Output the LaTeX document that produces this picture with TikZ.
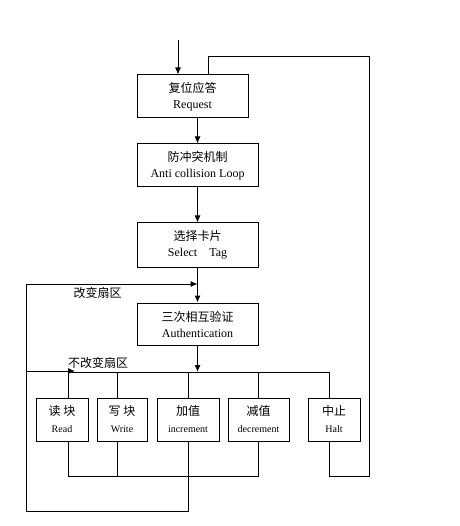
\documentclass[tikz,border=0pt]{standalone}
\usepackage{fontspec}
\setmainfont{Liberation Serif}
\newfontfamily\cjk{Noto Sans CJK SC}
\usetikzlibrary{arrows.meta}
\begin{document}
\begin{tikzpicture}[x=1pt,y=-1pt,line width=1pt,
  box/.style={draw,line width=1pt,inner sep=0pt,align=center,font=\fontsize{12}{16}\selectfont},
  sbox/.style={draw,line width=1pt,inner sep=0pt,align=center,minimum height=43pt,font=\fontsize{10}{17}\selectfont},
  lbl/.style={inner sep=0pt,font=\fontsize{12}{14}\selectfont\cjk},
  arr/.style={-{Latex[length=7pt,width=6pt]}}]
\useasboundingbox[fill=white] (0,0) rectangle (459,526);
% main boxes
\node[box,minimum width=111pt,minimum height=43pt] (req) at (192.5,96.5) {{\cjk 复位应答}\\Request};
\node[box,minimum width=121pt,minimum height=43pt] (anti) at (197.5,165.5) {{\cjk 防冲突机制}\\Anti collision Loop};
\node[box,minimum width=121pt,minimum height=44pt] (sel) at (197.5,245) {{\cjk 选择卡片}\\Select\hspace{12pt}Tag};
\node[box,minimum width=121pt,minimum height=42pt] (auth) at (197.5,324) {{\cjk 三次相互验证}\\Authentication};
% operation boxes
\node[sbox,minimum width=52pt] (read) at (62,419.5) {{\fontsize{12}{17}\selectfont\cjk 读 块}\\Read};
\node[sbox,minimum width=50pt] (write) at (122,419.5) {{\fontsize{12}{17}\selectfont\cjk 写 块}\\Write};
\node[sbox,minimum width=62pt] (incr) at (188,419.5) {{\fontsize{12}{17}\selectfont\cjk 加值}\\increment};
\node[sbox,minimum width=61pt] (decr) at (258.5,419.5) {{\fontsize{12}{17}\selectfont\cjk 减值}\\decrement};
\node[sbox,minimum width=52pt] (halt) at (334,419.5) {{\fontsize{12}{17}\selectfont\cjk 中止}\\Halt};
% labels
\node[lbl] (chg) at (97.5,293) {改变扇区};
\node[lbl] (nochg) at (98,363) {不改变扇区};
% coordinates
\coordinate (start) at (178,40);
\coordinate (busL) at (68,372);
\coordinate (busW) at (117,372);
\coordinate (busR) at (329,372);
\coordinate (botL) at (68,476);
\coordinate (botW) at (117,476);
\coordinate (botR) at (258,476);
\coordinate (haltB) at (329,476);
\coordinate (fbR) at (369,476);
\coordinate (fbTop) at (369,57);
\coordinate (fbReq) at (208,57);
\coordinate (lpB) at (188,511);
\coordinate (lpL) at (26,511);
\coordinate (lpTop) at (26,284);
\coordinate (lpMid) at (26,371);
\coordinate (lpArr) at (75,371);
% main flow
\draw[arr] (start) -- (start |- req.north);
\draw[arr] (req.south -| anti.north) -- (anti.north);
\draw[arr] (anti.south) -- (sel.north);
\draw[arr] (sel.south) -- (auth.north);
\draw[arr] (auth.south) -- (auth.south |- busL);
% top bus
\draw (busL) -- (busR);
\draw (busL) -- (busL |- read.north);
\draw (busW) -- (busW |- write.north);
\draw (incr.north |- busL) -- (incr.north);
\draw (decr.north |- busL) -- (decr.north);
\draw (busR) -- (busR |- halt.north);
% bottom bus
\draw (botL |- read.south) -- (botL) -- (botR) -- (botR |- decr.south);
\draw (botW |- write.south) -- (botW);
\draw (incr.south) -- (lpB) -- (lpL) -- (lpTop);
\draw[arr] (lpTop) -- (lpTop -| sel.south);
\draw[arr] (lpMid) -- (lpArr);
% halt feedback
\draw (haltB |- halt.south) -- (haltB) -- (fbR) -- (fbTop) -- (fbReq) -- (fbReq |- req.north);
\end{tikzpicture}
\end{document}
